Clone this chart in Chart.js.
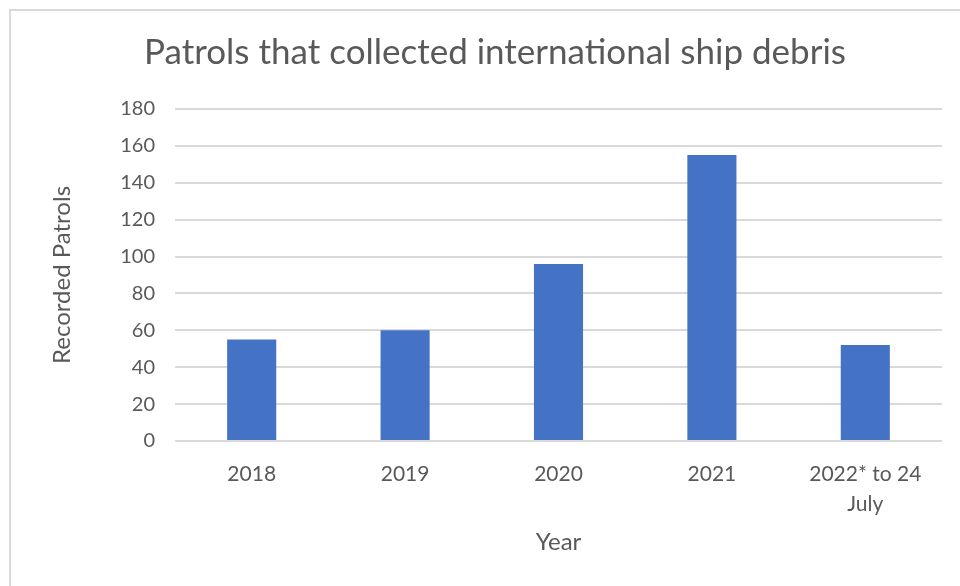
<!DOCTYPE html>
<html>
<head>
<meta charset="utf-8">
<script src="https://cdn.jsdelivr.net/npm/chart.js@4"></script>
<style>
  html, body { margin: 0; padding: 0; background: #fff; }
  #wrap { position: relative; width: 960px; height: 586px; overflow: hidden; }
  #frame { position: absolute; left: 9px; top: 9px; width: 1000px; height: 640px;
           border-left: 2px solid #d9d9d9; border-top: 2px solid #d9d9d9; }
  canvas { position: absolute; left: 0; top: 0; }
</style>
</head>
<body>
<div id="wrap">
  <div id="frame"></div>
  <canvas id="chart" width="960" height="586"></canvas>
</div>
<script>
const categories = ['2018', '2019', '2020', '2021', ['2022* to 24', 'July']];
const patrols = [55, 60, 96, 155, 52];
const yTicks = [0, 20, 40, 60, 80, 100, 120, 140, 160, 180];

const textColor = '#595959';
const fontFamily = 'Lato, "Open Sans", sans-serif';

const ctx = document.getElementById('chart').getContext('2d');
new Chart(ctx, {
    type: 'bar',
    data: {
        labels: categories,
        datasets: [{
            label: 'Recorded Patrols',
            data: patrols,
            backgroundColor: '#4472c4',
            borderWidth: 0,
            categoryPercentage: 1,
            barPercentage: 0.32
        }]
    },
    options: {
        responsive: false,
        animation: false,
        layout: { padding: { left: 48, right: 18, top: 0, bottom: 29 } },
        plugins: {
            legend: { display: false },
            tooltip: { enabled: false },
            title: {
                display: true,
                text: 'Patrols that collected international ship debris',
                color: textColor,
                font: { family: fontFamily, size: 35, weight: 'normal' },
                padding: { top: 32, bottom: 35 }
            }
        },
        scales: {
            x: {
                afterFit: (scale) => { scale.height = 116; },
                grid: { display: false },
                border: { display: false },
                ticks: {
                    color: textColor,
                    font: { family: fontFamily, size: 21, lineHeight: 1.45 },
                    padding: 10,
                    maxRotation: 0
                },
                title: {
                    display: true,
                    text: 'Year',
                    color: textColor,
                    font: { family: fontFamily, size: 24 },
                    padding: { top: 8, bottom: 0 }
                }
            },
            y: {
                min: 0,
                max: 180,
                afterBuildTicks: (scale) => {
                    scale.ticks = yTicks.map(v => ({ value: v }));
                },
                afterFit: (scale) => { scale.width = 127; },
                grid: { color: '#d9d9d9', lineWidth: 2, drawTicks: false },
                border: { display: false },
                ticks: {
                    color: textColor,
                    font: { family: fontFamily, size: 20 },
                    padding: 20
                },
                title: {
                    display: true,
                    text: 'Recorded Patrols',
                    color: textColor,
                    font: { family: fontFamily, size: 24 },
                    padding: { top: 0, bottom: 0 }
                }
            }
        }
    }
});
</script>
</body>
</html>
